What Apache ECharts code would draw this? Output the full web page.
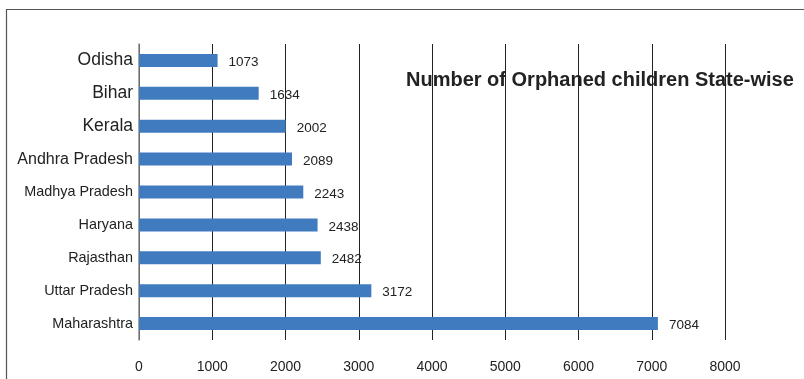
<!DOCTYPE html>
<html><head><meta charset="utf-8">
<script src="https://cdn.jsdelivr.net/npm/echarts@6/dist/echarts.min.js"></script>
<style>html,body{margin:0;padding:0;background:#fff}#c{width:804px;height:379px}</style>
</head><body><div id="c"></div>
<script>
const categories = ['Maharashtra','Uttar Pradesh','Rajasthan','Haryana','Madhya Pradesh','Andhra Pradesh','Kerala','Bihar','Odisha'];
const values = [7084, 3172, 2482, 2438, 2243, 2089, 2002, 1634, 1073];
const xTicks = [0,1000,2000,3000,4000,5000,6000,7000,8000];
const titleText = 'Number of Orphaned children State-wise';
const labelSize = {'Odisha':'big','Bihar':'big','Kerala':'big','Andhra Pradesh':'mid'};

const chart = echarts.init(document.getElementById('c'));
chart.setOption({
  animation:false,
  textStyle:{fontFamily:'Liberation Sans, Arial, sans-serif'},
  title:{text:titleText,left:401,top:65,textStyle:{fontSize:20,fontWeight:'bold',color:'#222',fontFamily:'Liberation Sans, Arial, sans-serif'}},
  graphic:[{type:'rect',shape:{x:6.5,y:9.5,width:900,height:500},style:{fill:'none',stroke:'#555',lineWidth:1.2},silent:true,z:-1}],
  grid:{left:139,right:79,top:44,bottom:39},
  xAxis:{type:'value',min:0,max:8000,interval:1000,
    axisLine:{show:false},axisTick:{show:false},
    axisLabel:{color:'#222',fontSize:14,margin:20,formatter:v=>xTicks.includes(v)?String(v):''},
    splitLine:{show:true,lineStyle:{color:'#222',width:1}}},
  yAxis:{type:'category',data:categories,
    axisLine:{show:true,lineStyle:{color:'#888',width:1.5}},axisTick:{show:false},
    axisLabel:{color:'#222',margin:6,
      formatter:v=>'{'+(labelSize[v]||'sm')+'|'+v+'}',
      rich:{big:{fontSize:17.5,color:'#222'},mid:{fontSize:16,color:'#222'},sm:{fontSize:14.4,color:'#222'}}}},
  series:[{type:'bar',data:values,barWidth:13,itemStyle:{color:'#417bbf'},
    label:{show:true,position:'right',distance:11,color:'#222',fontSize:13.5,offset:[0,2]}}]
});
</script></body></html>
